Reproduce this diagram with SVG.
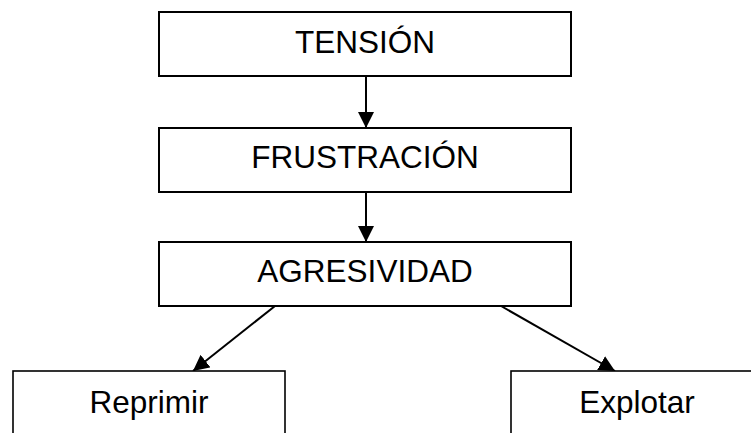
<svg xmlns="http://www.w3.org/2000/svg" width="751" height="433" viewBox="0 0 751 433">
<style>
  .box { fill: #ffffff; stroke: #000000; stroke-width: 2; }
  .box2 { fill: #ffffff; stroke: #000000; stroke-width: 1.6; }
  .lbl { font-family: "Liberation Sans", Arial, sans-serif; font-size: 31.5px; fill: #000000; text-anchor: middle; }
  .conn { stroke: #000000; stroke-width: 2; fill: none; marker-end: url(#arrow); }
</style>
<defs>
  <marker id="arrow" markerUnits="userSpaceOnUse" markerWidth="16" markerHeight="16" viewBox="0 0 14 14" refX="14" refY="7" orient="auto">
    <path d="M0,0 L14,7 L0,14 Z" fill="#000000"/>
  </marker>
</defs>
<rect width="751" height="433" fill="#ffffff"/>
<g id="connectors">
  <line class="conn" x1="366" y1="76" x2="366" y2="128"/>
  <line class="conn" x1="366" y1="192" x2="366" y2="242"/>
  <line class="conn" x1="275" y1="306" x2="193" y2="371"/>
  <line class="conn" x1="501" y1="306" x2="615" y2="371"/>
</g>
<g id="tension">
  <rect class="box" x="159" y="12" width="412" height="64"/>
  <text class="lbl" x="365" y="53">TENSIÓN</text>
</g>
<g id="frustracion">
  <rect class="box" x="159" y="128" width="412" height="64"/>
  <text class="lbl" x="365" y="168">FRUSTRACIÓN</text>
</g>
<g id="agresividad">
  <rect class="box" x="159" y="242" width="412" height="64"/>
  <text class="lbl" x="365" y="282">AGRESIVIDAD</text>
</g>
<g id="reprimir">
  <rect class="box2" x="13" y="371" width="272" height="80"/>
  <text class="lbl" x="149" y="413">Reprimir</text>
</g>
<g id="explotar">
  <rect class="box2" x="511" y="371" width="260" height="80"/>
  <text class="lbl" x="637" y="413">Explotar</text>
</g>
</svg>
